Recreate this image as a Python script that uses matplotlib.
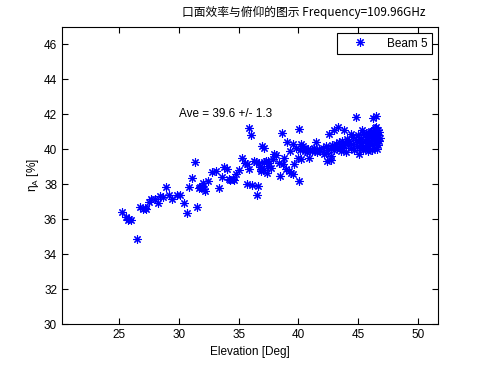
# Aperture efficiency vs elevation plot

import matplotlib
matplotlib.use('Agg')
import matplotlib.pyplot as plt

title_text = '口面效率与俯仰的图示 Frequency=109.96GHz'
legend_label = 'Beam 5'
ave_text = 'Ave = 39.6 +/- 1.3'

elevation = [
    25.23, 25.52, 25.74, 25.99, 25.85, 26.49, 26.77, 26.99, 27.27, 27.12,
    27.49, 27.69, 27.97, 28.22, 28.44, 28.66, 28.94, 29.18, 29.44, 29.85,
    30.12, 30.39, 30.64, 30.82, 31.10, 31.47, 31.64, 31.73, 31.95, 32.00,
    32.06, 32.20, 32.44, 31.33, 32.73, 33.12, 33.34, 33.60, 33.76, 34.02,
    34.23, 34.29, 34.51, 34.59, 34.79, 35.07, 35.26, 35.53, 35.68, 35.69,
    35.86, 35.90, 36.07, 36.11, 36.32, 36.49, 36.51, 36.60, 36.74, 36.78,
    36.88, 36.90, 36.96, 37.07, 37.16, 37.16, 37.30, 37.35, 37.43, 37.43,
    37.57, 37.71, 37.85, 37.99, 38.13, 38.41, 38.47, 38.63, 38.68, 38.83,
    38.97, 39.02, 39.24, 39.30, 39.39, 39.52, 39.52, 39.66, 39.94, 40.02,
    40.08, 40.22, 40.22, 40.36, 39.80, 40.10, 40.45,
    40.55, 40.70, 40.85, 40.92, 41.00, 41.15, 41.30, 41.40, 41.52, 41.60,
    41.75, 41.85, 42.03, 42.17, 42.31, 42.31, 42.44, 42.50, 42.59, 42.73,
    42.73, 42.73, 42.85, 42.95, 43.00, 43.05, 43.15, 43.25, 43.36, 43.40,
    43.50, 43.55, 43.65, 43.70, 43.84, 43.90, 44.00, 44.05, 44.15, 44.25,
    44.40, 44.45, 44.55, 44.60, 44.70, 44.80, 44.87, 44.90, 45.00, 45.05,
    45.09, 45.15, 45.25, 45.30, 45.37, 45.40, 45.45, 45.55, 45.60, 45.65,
    45.70, 45.75, 45.80, 45.85, 45.90, 45.95, 46.00, 46.05, 46.07, 46.10,
    46.15, 46.20, 46.25, 46.26, 46.30, 46.35, 46.40, 46.45, 46.49, 46.49,
    46.50, 46.55, 46.60, 46.62, 46.65, 46.70, 46.70, 46.75, 46.78, 46.80,
]

eta = [
    36.42, 36.11, 35.98, 35.94, 36.02, 34.87, 36.68, 36.59, 36.59, 36.62,
    36.98, 37.13, 37.13, 36.93, 37.33, 37.27, 37.84, 37.41, 37.13, 37.36,
    37.36, 36.94, 36.34, 37.87, 38.36, 36.72, 37.80, 37.86, 37.90, 38.09,
    37.70, 37.60, 38.16, 39.29, 38.70, 38.74, 37.80, 38.40, 38.97, 38.87,
    38.30, 38.24, 38.32, 38.24, 38.59, 38.79, 39.49, 39.24, 38.02, 39.14,
    41.24, 38.89, 40.80, 37.93, 39.33, 39.29, 37.37, 37.89, 39.24, 38.97,
    38.74, 38.85, 40.16, 38.79, 39.27, 40.10, 39.33, 38.66, 39.31, 39.04,
    39.24, 38.95, 39.43, 39.75, 39.66, 39.24, 38.47, 40.92, 39.14, 39.52,
    38.85, 40.42, 38.75, 39.90, 38.66, 40.29, 38.56, 39.14, 39.52, 41.15,
    38.18, 40.29, 39.43, 40.19, 40.05, 39.95, 40.10,
    39.92, 39.85, 40.02, 39.52, 39.95, 39.88, 40.05, 39.93, 40.42, 39.85,
    40.00, 39.90, 40.10, 39.71, 40.19, 39.81, 39.33, 39.95, 40.86, 40.10,
    39.61, 39.37, 40.25, 39.98, 41.09, 40.15, 40.30, 40.05, 41.28, 40.40,
    40.20, 39.90, 40.50, 40.10, 41.09, 40.35, 39.85, 40.60, 40.25, 40.45,
    40.90, 40.10, 40.70, 40.30, 39.95, 40.55, 41.82, 40.20, 40.80, 40.40,
    39.71, 40.05, 40.60, 40.25, 41.09, 40.85, 39.95, 40.45, 40.15, 40.96,
    40.70, 40.35, 39.90, 40.55, 40.85, 40.20, 41.00, 40.45, 41.05, 40.70,
    39.95, 40.30, 40.90, 41.78, 40.55, 40.10, 41.20, 40.75, 41.25, 41.91,
    40.35, 40.95, 40.60, 40.00, 41.10, 40.25, 40.80, 40.45, 41.00, 40.65,
]

xticks = [25, 30, 35, 40, 45, 50]
yticks = [30, 32, 34, 36, 38, 40, 42, 44, 46]

plt.rcParams['font.family'] = ['Liberation Sans', 'DejaVu Sans']
plt.rcParams['font.size'] = 8.5
plt.rcParams['mathtext.default'] = 'regular'

fig = plt.figure(figsize=(4.86, 3.66), dpi=100)
ax = fig.add_axes([62 / 486, 1 - 324 / 366, 376 / 486, 297 / 366])

ax.plot(elevation, eta, linestyle='none', marker=(8, 2, 0), markersize=6,
        markeredgewidth=0.8, color='blue', label=legend_label)

ax.set_xlim(20.2, 51.7)
ax.set_ylim(30, 47)
ax.set_xticks(xticks)
ax.set_yticks(yticks)
ax.tick_params(direction='in', top=True, right=True, length=4, width=0.8, labelsize=8.5)
for s in ax.spines.values():
    s.set_linewidth(0.8)

ax.text(30, 42, ave_text, fontsize=8.5, va='center', ha='left')

ax.set_xlabel('Elevation [Deg]', fontsize=8.5, labelpad=4)
ax.set_ylabel('η$_A$ [%]', fontsize=8.5, labelpad=2)

leg = ax.legend(loc='upper right', fancybox=False, edgecolor='black',
                framealpha=1, fontsize=8.5, borderaxespad=0.5, handlelength=3)
leg.get_frame().set_linewidth(0.8)

fig.text(304 / 486, 1 - 12 / 366, title_text, ha='center', va='center', fontsize=8.5,
         family=['Noto Sans CJK SC', 'DejaVu Sans'])

fig.savefig('out.png', dpi=100)
